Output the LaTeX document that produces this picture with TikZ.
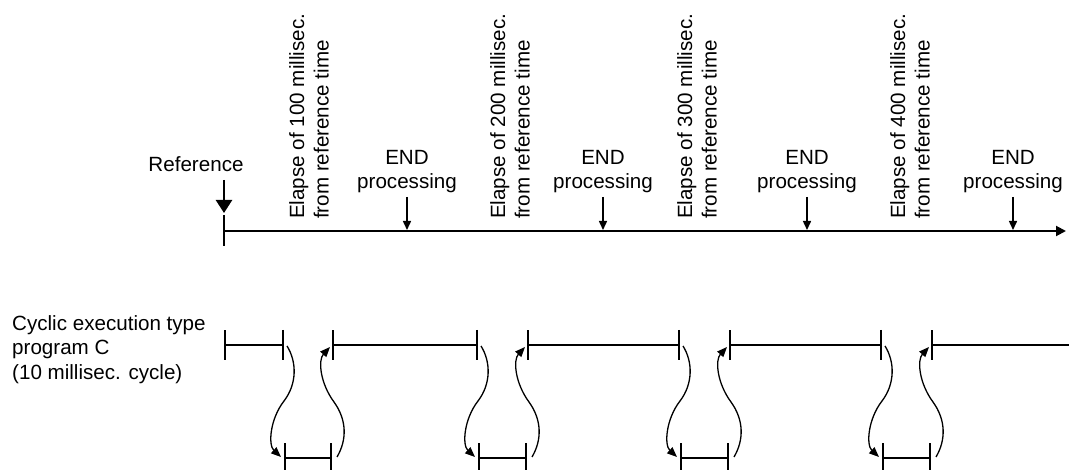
\documentclass[tikz,border=0pt]{standalone}
\usepackage{fontspec}
\setmainfont{Liberation Sans}
\usetikzlibrary{arrows.meta}
\begin{document}
\begin{tikzpicture}[x=1pt,y=-1pt,
  font=\fontsize{20.6}{24.3}\selectfont,
  lbl/.style={inner sep=0pt, align=center},
  vlbl/.style={inner sep=0pt, align=left, rotate=90, anchor=west},
  axisline/.style={line width=2pt, -{Triangle[length=10pt,width=10pt]}},
  endarr/.style={line width=1.5pt, -{Triangle[length=9pt,width=8pt]}},
  refarr/.style={line width=2.5pt, -{Triangle[length=13pt,width=16pt]}},
  barline/.style={line width=2pt},
  barboth/.style={barline, {Bar[width=30pt]}-{Bar[width=30pt]}},
  barleft/.style={barline, {Bar[width=30pt]}-},
  swaparr/.style={line width=1.3pt, -{Triangle[length=10pt,width=8pt]}}]
\useasboundingbox (0,0) rectangle (1069,470);
\clip (0,0) rectangle (1069,470);

% time axis
\coordinate (ax0) at (224,231);
\coordinate (ax1) at (1066,231);
\coordinate (tk0) at (224,215);
\coordinate (tk1) at (224,246);
\draw[axisline] (ax0) -- (ax1);
\draw[barline] (tk0) -- (tk1);

% reference
\node[lbl, anchor=base] (ref) at (196,172) {Reference};
\coordinate (refA) at (224,180);
\coordinate (refB) at (224,213);
\draw[refarr] (refA) -- (refB);

% END processing labels
\foreach \i/\x in {1/407, 2/603, 3/807, 4/1013} {
  \node[lbl, anchor=south] (e\i) at (\x,193) {END\\processing};
  \coordinate (ea\i) at (\x,197);
  \coordinate (eb\i) at (\x,230);
  \draw[endarr] (ea\i) -- (eb\i);
}

% elapse labels
\node[vlbl] (v1) at (309,219) {Elapse of 100 millisec.\\from reference time};
\node[vlbl] (v2) at (510,219) {Elapse of 200 millisec.\\from reference time};
\node[vlbl] (v3) at (697,219) {Elapse of 300 millisec.\\from reference time};
\node[vlbl] (v4) at (910,219) {Elapse of 400 millisec.\\from reference time};

% program C
\node[inner sep=0pt, align=left, anchor=north west] (cyc) at (12,315.5)
  {Cyclic execution type\\program C\\(10 millisec. cycle)};

% upper bars
\coordinate (u0) at (224,345);
\foreach \i/\a/\b in {1/284/332, 2/478/527, 3/680/729, 4/882/931} {
  \coordinate (ua\i) at (\a,345);
  \coordinate (ub\i) at (\b,345);
  \coordinate (la\i) at (\a,458);
  \coordinate (lb\i) at (\b,458);
  \draw[barboth] (la\i) -- (lb\i);
  \draw[swaparr] ([xshift=3pt,yshift=-1pt]ua\i)
     .. controls ++(10,16) and ++(13,-17) .. ([yshift=-56pt]ua\i)
     .. controls ++(-14,18) and ++(-13,-12) .. ([xshift=-3pt,yshift=1pt]la\i);
  \draw[swaparr] ([xshift=5pt,yshift=1pt]lb\i)
     .. controls ++(10,-17) and ++(13,18) .. ([xshift=2pt,yshift=56pt]lb\i)
     .. controls ++(-14,-19) and ++(-12,13) .. ([xshift=-2pt,yshift=-2pt]ub\i);
}
\coordinate (uend) at (1069,345);
\draw[barboth] (u0) -- (ua1);
\draw[barboth] (ub1) -- (ua2);
\draw[barboth] (ub2) -- (ua3);
\draw[barboth] (ub3) -- (ua4);
\draw[barleft] (ub4) -- (uend);
\end{tikzpicture}
\end{document}
